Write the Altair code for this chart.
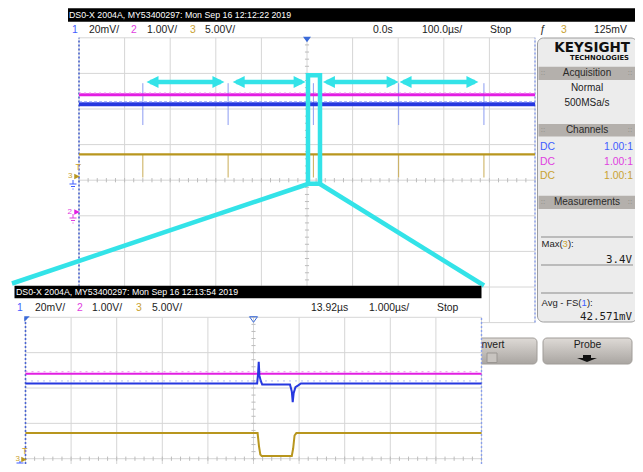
import altair as alt
import pandas as pd

# ---------------- values ----------------
main_title = "DS0-X 2004A, MY53400297: Mon Sep 16 12:12:22 2019"
zoom_title = "DS0-X 2004A, MY53400297: Mon Sep 16 12:13:54 2019"
ch_numbers = ["1", "2", "3"]
ch_scale_text = ["20mV/", "1.00V/", "5.00V/"]
main_timebase = ["0.0s", "100.0µs/", "Stop"]
zoom_timebase = ["13.92µs", "1.000µs/", "Stop"]
trig_source = "3"
trig_level = "125mV"

# channel settings: volts per division, ground marker offset (div)
volts_per_div = [0.020, 1.0, 5.0]
ground_div = [0.0, -1.0, 0.056]

# main window: 100 us/div, trigger at 0
glitch_t_us = [-360, -173, 14, 201, 388]
ch1_avg_V = 0.0426
ch1_glitch_lo_V = 0.031
ch1_glitch_hi_V = 0.0545
ch2_level_V = 3.4
ch3_high_V = 3.35
ch3_low_V = 0.10

# cyan annotations (main-window units)
arrow_from_us = [-352, -163, 35, 203]
arrow_to_us = [-181, -3, 201, 376]
arrow_div = 2.76
zoom_box_us = [2.2, 28.5]
zoom_box_div = [-0.1, 2.95]

# zoomed window: 1 us/div centred on 13.92 us
zoom_center_us = 13.92
zoom_ch1_t_us = [8.92, 14.00, 14.02, 14.035, 14.05, 14.08, 14.11, 14.72, 14.76, 14.78, 14.80, 14.84, 14.90, 14.96, 18.92]
zoom_ch1_V = [0.0426, 0.0426, 0.048, 0.0548, 0.047, 0.044, 0.042, 0.042, 0.038, 0.032, 0.037, 0.0405, 0.0415, 0.0426, 0.0426]
zoom_ch3_t_us = [8.92, 14.01, 14.04, 14.07, 14.10, 14.76, 14.79, 14.82, 14.86, 18.92]
zoom_ch3_V = [3.35, 3.35, 1.5, 0.3, 0.1, 0.1, 1.2, 3.0, 3.35, 3.35]
zoom_ch2_V = 3.4

# side panel
acq_lines = ["Normal", "500MSa/s"]
probe_ratio = ["1.00:1", "1.00:1", "1.00:1"]
meas_max = "3.4V"
meas_avg = "42.571mV"


def div(v, ch):
    return v / volts_per_div[ch - 1] + ground_div[ch - 1]


# ---------------- styling / layout ----------------
FONT = "Liberation Sans, Arial, sans-serif"
MONO = "DejaVu Sans Mono, Liberation Mono, monospace"
BOLD = "DejaVu Sans, Liberation Sans, sans-serif"
C1, C2, C3 = "#2638e0", "#e21fe2", "#b8961e"
T1, T2, T3 = "#3f5cff", "#e040e0", "#c9a232"
INK = "#1c1c1c"
GRID = "#d6d6d6"
CYAN = "#33e3e8"

OX, OY, W, H = 8, 8, 627, 456
PX = alt.Scale(domain=[OX, OX + W], range=[0, W], nice=False, zero=False)
PY = alt.Scale(domain=[OY, OY + H], range=[0, H], nice=False, zero=False)
MX = alt.Scale(domain=[-500, 500], range=[79 - OX, 535 - OX], nice=False, zero=False)
MY = alt.Scale(domain=[-4, 4], range=[322.6 - OY, 37.8 - OY], nice=False, zero=False)
ZX = alt.Scale(domain=[zoom_center_us - 5, zoom_center_us + 5], range=[25.5 - OX, 481.5 - OX], nice=False, zero=False)
ZY = alt.Scale(domain=[-4, 4], range=[600.1 - OY, 317.3 - OY], nice=False, zero=False)


def X(f, s):
    return alt.X(f + ":Q", scale=s, axis=None)


def Y(f, s):
    return alt.Y(f + ":Q", scale=s, axis=None)


def rules(rows, sx, sy, **mk):
    df = pd.DataFrame(rows, columns=["x", "x2", "y", "y2"])
    return alt.Chart(df).mark_rule(**mk).encode(x=X("x", sx), x2="x2:Q", y=Y("y", sy), y2="y2:Q")


def rects(rows, sx, sy, **mk):
    df = pd.DataFrame(rows, columns=["x", "x2", "y", "y2"])
    return alt.Chart(df).mark_rect(**mk).encode(x=X("x", sx), x2="x2:Q", y=Y("y", sy), y2="y2:Q")


def texts(rows, sx=PX, sy=PY, size=10.4, font=FONT, weight="normal", align="left"):
    df = pd.DataFrame(rows, columns=["x", "y", "t", "c"])
    return alt.Chart(df).mark_text(align=align, baseline="middle", fontSize=size, font=font,
                                   fontWeight=weight).encode(
        x=X("x", sx), y=Y("y", sy), text="t:N", color=alt.Color("c:N", scale=None))


def points(rows, sx, sy, shape, size, color, filled=True, **mk):
    df = pd.DataFrame(rows, columns=["x", "y"])
    return alt.Chart(df).mark_point(shape=shape, size=size, filled=filled, opacity=1, color=color,
                                    **mk).encode(x=X("x", sx), y=Y("y", sy))


def line(ts, ds, sx, sy, **mk):
    df = pd.DataFrame({"x": ts, "y": ds})
    return alt.Chart(df).mark_line(**mk).encode(x=X("x", sx), y=Y("y", sy))


TRI_R = "M1,0L-1,-1L-1,1Z"
TRI_D = "M-1,-0.7L1,-0.7L0,0.7Z"
HEAD_R = "M0,0L-2,-1L-2,1Z"
HEAD_L = "M0,0L2,-1L2,1Z"
PROBE_ARROW = "M-0.4,-0.35L0.4,-0.35L0.4,-0.05L1,-0.05L0,0.35L-1,-0.05L-0.4,-0.05Z"

L = []

# ================= main window =================
L.append(rules([[-500 + 100 * k, -500 + 100 * k, -4, 4] for k in range(11)], MX, MY, color=GRID, strokeWidth=1))
L.append(rules([[-500, 500, k, k] for k in range(-4, 5)], MX, MY, color=GRID, strokeWidth=1))
L.append(rules([[-500 + 20 * k, -500 + 20 * k, -0.06, 0.06] for k in range(51)], MX, MY, color="#bcbcbc", strokeWidth=1))
L.append(rules([[-4.5, 4.5, -4 + 0.2 * k, -4 + 0.2 * k] for k in range(41)], MX, MY, color="#bcbcbc", strokeWidth=1))
L.append(rules([[-500, -500, -4, 4]], MX, MY, color="#4a64d0", strokeWidth=1.6, strokeDash=[2, 2]))
L.append(rules([[500, 500, -4, 4]], MX, MY, color="#8aa0ec", strokeWidth=1.4, strokeDash=[2, 2]))

d3h, d3l = div(ch3_high_V, 3), div(ch3_low_V, 3)
L.append(rules([[t, t, d3l, d3h] for t in glitch_t_us], MX, MY, color="#c9ac55", strokeWidth=1))
L.append(rules([[-500, 500, d3h, d3h]], MX, MY, color=C3, strokeWidth=2.2))
L.append(rules([[t, t, div(ch1_glitch_lo_V, 1), div(ch1_glitch_hi_V, 1)] for t in glitch_t_us], MX, MY,
               color="#8c9cf2", strokeWidth=1))
d2 = div(ch2_level_V, 2)
L.append(rules([[-500, 500, d2, d2]], MX, MY, color=C2, strokeWidth=3))
L.append(rules([[-500, 500, d2 + 0.05, d2 + 0.05]], MX, MY, color="#f08cf0", strokeWidth=1, strokeDash=[2, 3]))
d1 = div(ch1_avg_V, 1)
L.append(rules([[-500, 500, d1, d1]], MX, MY, color=C1, strokeWidth=4))
L.append(rules([[-500, 500, d1 + 0.07, d1 + 0.07]], MX, MY, color="#8090ff", strokeWidth=1, strokeDash=[3, 2]))

# trigger marker and channel ground markers
L.append(points([[0, 39.5]], MX, PY, TRI_D, 64, "#3a6ad8", strokeWidth=0))
L.append(texts([[75.5, 166.5, "T", T3]], size=9))
L.append(texts([[68, 175.5, "3", T3], [67.5, 211.5, "2", T2]], size=8))
L.append(points([[77, 176.5]], PX, PY, TRI_R, 30, C3, strokeWidth=0))
L.append(points([[77, 212]], PX, PY, TRI_R, 30, C2, strokeWidth=0))
L.append(rules([[73, 73, 180, 184], [69.5, 76.5, 184, 184], [71, 75, 186.5, 186.5], [72.5, 73.5, 189, 189]],
               PX, PY, color=T1, strokeWidth=1))
L.append(rules([[73, 73, 214, 218], [69.5, 76.5, 218, 218], [71, 75, 220.5, 220.5], [72.5, 73.5, 223, 223]],
               PX, PY, color=T2, strokeWidth=1))

# header
L.append(rects([[68, 640, 8.3, 21.7]], PX, PY, color="black"))
L.append(texts([[69, 15.2, main_title, "white"]], size=8.8))
L.append(texts([[72, 30, ch_numbers[0], T1], [89, 30, ch_scale_text[0], INK],
                [131, 30, ch_numbers[1], T2], [147, 30, ch_scale_text[1], INK],
                [190, 30, ch_numbers[2], T3], [205, 30, ch_scale_text[2], INK],
                [373, 30, main_timebase[0], INK], [422, 30, main_timebase[1], INK],
                [490, 30, main_timebase[2], INK], [540, 30, "ƒ", INK],
                [561, 30, trig_source, T3], [594, 30, trig_level, INK]]))

# ================= side panel =================
L.append(rects([[537.5, 637, 38, 322]], PX, PY, fill="#ececec", stroke="#9c9c9c", strokeWidth=1, cornerRadius=6))
L.append(texts([[630, 47.5, "KEYSIGHT", "#111111"]], font=BOLD, weight="bold", size=13.5, align="right"))
L.append(texts([[629, 58, "TECHNOLOGIES", "#111111"]], font=BOLD, weight="bold", size=6.8, align="right"))
L.append(rects([[538.5, 636, 66.7, 80], [538.5, 636, 124, 136.5], [538.5, 636, 195.7, 209]], PX, PY,
               color="#b4b0ac"))
L.append(texts([[587, 73.3, "Acquisition", "#2a2a2a"], [587, 130.2, "Channels", "#2a2a2a"],
                [587, 202.3, "Measurements", "#2a2a2a"],
                [587, 87.5, acq_lines[0], INK], [587, 102.5, acq_lines[1], INK]], size=10, align="center"))
L.append(texts([[543, 73.3, "::", "#8c8884"], [630, 73.3, "::", "#8c8884"],
                [543, 130.2, "::", "#8c8884"], [630, 130.2, "::", "#8c8884"],
                [543, 202.3, "::", "#8c8884"], [630, 202.3, "::", "#8c8884"]], size=8, align="center"))
L.append(texts([[540, 147, "DC", T1], [540, 161.5, "DC", T2], [540, 176, "DC", T3]]))
L.append(texts([[633, 147, probe_ratio[0], T1], [633, 161.5, probe_ratio[1], T2],
                [633, 176, probe_ratio[2], T3]], align="right"))
L.append(rules([[541, 633, 237, 237], [541, 633, 265, 265], [541, 633, 293, 293]], PX, PY,
               color="#8a8a8a", strokeWidth=1))
L.append(texts([[541.5, 243.5, "Max(", INK], [562.6, 243.5, "3", T3], [567.9, 243.5, "):", INK],
                [541.5, 302.5, "Avg - FS(", INK], [581.6, 302.5, "1", T1], [586.9, 302.5, "):", INK]],
               size=9.5))
L.append(texts([[632, 259.5, meas_max, INK], [632, 316.5, meas_avg, INK]], font=MONO, size=10.8, align="right"))

# buttons
grad = alt.Gradient(gradient="linear", x1=0, x2=0, y1=0, y2=1,
                    stops=[alt.GradientStop(color="#dedad6", offset=0),
                           alt.GradientStop(color="#a9a5a1", offset=1)])
L.append(rects([[468, 537, 338, 364], [543, 632, 338, 364]], PX, PY, fill=grad, stroke="#a09c98",
               strokeWidth=1, cornerRadius=4))
L.append(rects([[487, 497, 353, 362.5]], PX, PY, fill="#c8c4c0", stroke="#9a9692", strokeWidth=1))
L.append(texts([[504.5, 344.5, "Invert", INK]], align="right"))
L.append(texts([[587.5, 344.5, "Probe", INK]], align="center"))
L.append(points([[587, 358.5]], PX, PY, PROBE_ARROW, 400, "#111111", strokeWidth=0))

# ================= cyan annotation =================
L.append(rules([[a + 8, b - 8, arrow_div, arrow_div] for a, b in zip(arrow_from_us, arrow_to_us)], MX, MY,
               color=CYAN, strokeWidth=4.5))
L.append(points([[a, arrow_div] for a in arrow_from_us], MX, MY, HEAD_L, 144, CYAN, strokeWidth=0))
L.append(points([[b, arrow_div] for b in arrow_to_us], MX, MY, HEAD_R, 144, CYAN, strokeWidth=0))
L.append(rects([[zoom_box_us[0], zoom_box_us[1], zoom_box_div[0], zoom_box_div[1]]], MX, MY,
               fillOpacity=0, stroke=CYAN, strokeWidth=4.5))
L.append(rules([[308, 12, 184, 283.5], [320, 484, 184, 285.5]], PX, PY, color=CYAN, strokeWidth=4.5))

# ================= zoomed window =================
L.append(rects([[14, 482, 285.7, 480]], PX, PY, color="white"))
zt0 = zoom_center_us - 5
L.append(rules([[zt0 + k, zt0 + k, -4, 4] for k in range(11)], ZX, ZY, color=GRID, strokeWidth=1))
L.append(rules([[zt0, zt0 + 10, k, k] for k in range(-4, 5)], ZX, ZY, color=GRID, strokeWidth=1))
L.append(rules([[zt0 + 0.2 * k, zt0 + 0.2 * k, -0.06, 0.06] for k in range(51)], ZX, ZY, color="#bcbcbc",
               strokeWidth=1))
L.append(rules([[zoom_center_us - 0.045, zoom_center_us + 0.045, -4 + 0.2 * k, -4 + 0.2 * k] for k in range(41)],
               ZX, ZY, color="#bcbcbc", strokeWidth=1))
L.append(rules([[zt0, zt0, -4, 4]], ZX, ZY, color="#4a64d0", strokeWidth=1.6, strokeDash=[2, 2]))
L.append(rules([[zt0 + 10, zt0 + 10, -4, 4]], ZX, ZY, color="#8aa0ec", strokeWidth=1.4, strokeDash=[2, 2]))

zd2 = div(zoom_ch2_V, 2)
L.append(rules([[zt0, zt0 + 10, zd2, zd2]], ZX, ZY, color=C2, strokeWidth=2))
L.append(rules([[zt0, zt0 + 10, zd2 + 0.06, zd2 + 0.06]], ZX, ZY, color="#f08cf0", strokeWidth=1,
               strokeDash=[2, 4]))
L.append(line(zoom_ch3_t_us, [div(v, 3) for v in zoom_ch3_V], ZX, ZY, color=C3, strokeWidth=2))
L.append(line(zoom_ch1_t_us, [div(v, 1) for v in zoom_ch1_V], ZX, ZY, color=C1, strokeWidth=2))
L.append(rules([[zt0, zt0 + 10, d1 + 0.07, d1 + 0.07]], ZX, ZY, color="#7080f0", strokeWidth=1,
               strokeDash=[1, 5]))

# trigger marker & ground markers (zoom)
L.append(points([[zoom_center_us, 319.5]], ZX, PY, TRI_D, 64, "#3a6ad8", filled=False, strokeWidth=1))
L.append(points([[27, 319]], PX, PY, "M-1,-1L1,-1L-1,1Z", 30, "#3a6ad8", strokeWidth=0))
L.append(texts([[22, 451, "T", T3]], size=9))
L.append(texts([[15.5, 459, "3", T3]], size=8))
L.append(points([[24, 459.5]], PX, PY, TRI_R, 30, C3, strokeWidth=0))
L.append(rules([[20, 20, 461, 463], [16.5, 23.5, 463, 463]], PX, PY, color=T1, strokeWidth=1))

# header (zoom)
L.append(rects([[14.5, 481.5, 285.7, 298.3]], PX, PY, color="black"))
L.append(texts([[16, 292, zoom_title, "white"]], size=8.8))
L.append(texts([[17, 307.5, ch_numbers[0], T1], [35, 307.5, ch_scale_text[0], INK],
                [77, 307.5, ch_numbers[1], T2], [92, 307.5, ch_scale_text[1], INK],
                [136, 307.5, ch_numbers[2], T3], [152, 307.5, ch_scale_text[2], INK],
                [311, 307.5, zoom_timebase[0], INK], [369, 307.5, zoom_timebase[1], INK],
                [437, 307.5, zoom_timebase[2], INK]]))

chart = alt.layer(*L).resolve_scale(x="independent", y="independent").properties(
    width=W, height=H, padding=0, background="white",
    autosize=alt.AutoSizeParams(type="none")
).configure_view(strokeWidth=0)

chart.save("out.html", embed_options={"renderer": "svg", "actions": False})
